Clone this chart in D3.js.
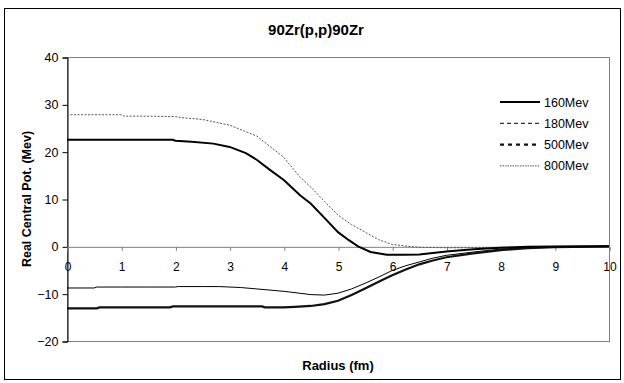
<!DOCTYPE html>
<html><head><meta charset="utf-8">
<script src="https://cdn.jsdelivr.net/npm/d3@7"></script>
<style>body{margin:0;background:#fff}text{font-family:"Liberation Sans",Arial,sans-serif}</style>
</head><body><svg id="c" width="624" height="383"></svg>
<script>
const title = "90Zr(p,p)90Zr";
const xLabel = "Radius (fm)";
const yLabel = "Real Central Pot. (Mev)";
const seriesNames = ["160Mev","180Mev","500Mev","800Mev"];
const xTicks = [0,1,2,3,4,5,6,7,8,9,10];
const yTicks = [-20,-10,0,10,20,30,40];

const r160 = [0,0.5,1,1.5,1.95,2.0,2.3,2.7,3.0,3.3,3.5,3.75,4.0,4.3,4.5,4.75,5.0,5.2,5.37,5.6,5.9,6.2,6.5,7.0,7.5,8.0,8.5,9.0,10];
const v160 = [22.5,22.5,22.5,22.5,22.5,22.3,22.1,21.7,21.0,19.7,18.3,16.1,14.0,10.8,9.0,6.0,3.0,1.3,0.0,-1.2,-1.8,-1.8,-1.7,-1.1,-0.6,-0.3,-0.1,-0.05,0];

const r180 = [0,0.5,0.55,1.0,1.5,2.0,2.05,2.5,2.8,3.2,3.5,4.0,4.5,4.75,5.0,5.25,5.5,5.75,6.0,6.25,6.5,6.75,7.0,7.5,8.0,8.5,9.0,10];
const v180 = [-8.8,-8.8,-8.6,-8.6,-8.6,-8.6,-8.5,-8.5,-8.5,-8.7,-9.0,-9.5,-10.2,-10.3,-9.9,-9.0,-7.8,-6.5,-5.1,-4.1,-3.3,-2.5,-1.9,-1.2,-0.6,-0.3,-0.1,0];

const r500 = [0,0.55,0.6,1.0,1.9,1.95,2.5,3.0,3.6,3.65,4.0,4.2,4.5,4.75,5.0,5.25,5.5,5.75,6.0,6.25,6.5,6.75,7.0,7.5,8.0,8.5,9.0,10];
const v500 = [-13.1,-13.1,-12.9,-12.9,-12.9,-12.7,-12.7,-12.7,-12.7,-12.9,-12.9,-12.8,-12.6,-12.2,-11.5,-10.3,-8.9,-7.5,-6.1,-4.9,-3.8,-3.0,-2.3,-1.5,-0.8,-0.4,-0.15,0];

const r800 = [0,0.5,1.0,1.05,1.5,2.0,2.1,2.5,3.0,3.5,4.0,4.3,4.5,4.75,5.0,5.25,5.5,5.75,6.0,6.3,6.5,7.0,7.5,8.0,8.5,9.0,10];
const v800 = [27.8,27.8,27.8,27.5,27.5,27.4,27.2,26.8,25.6,23.3,18.8,14.6,12.5,9.5,6.6,4.6,3.0,1.4,0.4,0.0,-0.2,-0.3,-0.3,-0.2,-0.1,0,0];

const svg = d3.select("#c");
const L = 67, R = 609, T = 57, B = 341;
const x = d3.scaleLinear().domain([0,10]).range([L,R]);
const y = d3.scaleLinear().domain([-20,40]).range([B,T]);
const FONT = "Liberation Sans, Arial, sans-serif";

// outer border
svg.append("rect").attr("x",4.5).attr("y",8.5).attr("width",616).attr("height",371)
  .attr("fill","none").attr("stroke","#000").attr("stroke-width",1);
// plot area border
svg.append("rect").attr("x",L+0.5).attr("y",T+0.5).attr("width",R-L).attr("height",B-T)
  .attr("fill","none").attr("stroke","#808080").attr("stroke-width",1);

// y axis
const ya = svg.append("g").attr("transform",`translate(${L+0.5},0.5)`)
  .call(d3.axisLeft(y).tickValues(yTicks).tickSize(5).tickPadding(4).tickFormat(d3.format("d")));
ya.select(".domain").attr("stroke","#000");
ya.selectAll("line").attr("stroke","#000");
ya.selectAll("text").attr("font-size",12.5).attr("fill","#000").attr("font-family",FONT);

// x axis at y=0
const xa = svg.append("g").attr("transform",`translate(0.5,${y(0)+0.5})`)
  .call(d3.axisBottom(x).tickValues(xTicks).tickSize(4).tickPadding(12).tickFormat(d3.format("d")));
xa.select(".domain").attr("stroke","#808080");
xa.selectAll("line").attr("stroke","#808080");
xa.selectAll("text").attr("font-size",12).attr("fill","#000").attr("font-family",FONT);

const line = d3.line().x(d=>x(d[0])).y(d=>y(d[1]));
const zip = (a,b)=>a.map((v,i)=>[v,b[i]]);
const styles = {
  "160Mev":{w:2,dash:null,c:"#000",leg:null},
  "180Mev":{w:1,dash:null,c:"#000",leg:"4,3"},
  "500Mev":{w:2.2,dash:null,c:"#111",leg:"4,4"},
  "800Mev":{w:1,dash:"2,1.5",c:"#555",leg:"1.5,1"}
};
const data = {"160Mev":zip(r160,v160),"180Mev":zip(r180,v180),"500Mev":zip(r500,v500),"800Mev":zip(r800,v800)};
["800Mev","180Mev","500Mev","160Mev"].forEach(n=>{
  const s = styles[n];
  svg.append("path").datum(data[n]).attr("d",line).attr("fill","none")
    .attr("stroke",s.c).attr("stroke-width",s.w).attr("stroke-dasharray",s.dash);
});

// legend
seriesNames.forEach((n,i)=>{
  const s = styles[n];
  const yy = 102 + i*21.3;
  svg.append("line").attr("x1",500).attr("x2",540).attr("y1",yy).attr("y2",yy)
    .attr("stroke",s.c).attr("stroke-width",s.w).attr("stroke-dasharray",s.leg);
  svg.append("text").attr("x",544).attr("y",yy+4.5).attr("font-size",12.5).text(n);
});

// titles
svg.append("text").attr("x",316).attr("y",35).attr("text-anchor","middle")
  .attr("font-size",15).attr("font-weight","bold").text(title);
svg.append("text").attr("x",338).attr("y",370).attr("text-anchor","middle")
  .attr("font-size",13).attr("font-weight","bold").text(xLabel);
svg.append("text").attr("transform","translate(31,199) rotate(-90)").attr("text-anchor","middle")
  .attr("font-size",12.5).attr("font-weight","bold").text(yLabel);
</script></body></html>
